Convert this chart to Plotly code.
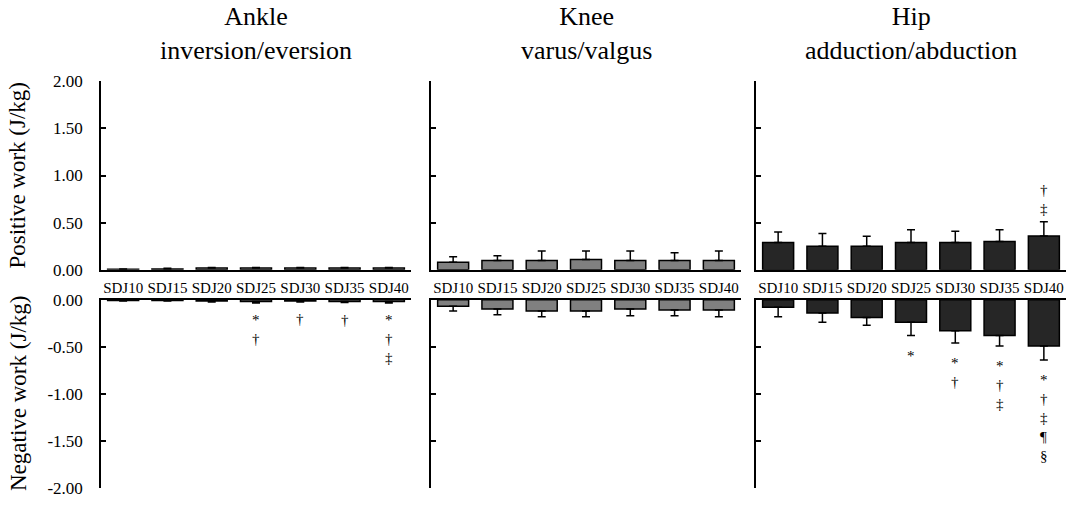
import plotly.graph_objects as go

# ---------------- data ----------------
categories = ["SDJ10", "SDJ15", "SDJ20", "SDJ25", "SDJ30", "SDJ35", "SDJ40"]

ankle_pos = [0.005, 0.008, 0.02, 0.02, 0.02, 0.02, 0.02]
ankle_pos_err = [0.003, 0.008, 0.005, 0.005, 0.005, 0.005, 0.005]
ankle_neg = [-0.01, -0.01, -0.015, -0.02, -0.015, -0.02, -0.02]
ankle_neg_err = [0.005, 0.005, 0.01, 0.015, 0.01, 0.01, 0.015]

knee_pos = [0.08, 0.10, 0.10, 0.11, 0.10, 0.10, 0.10]
knee_pos_err = [0.06, 0.05, 0.10, 0.09, 0.10, 0.08, 0.10]
knee_neg = [-0.07, -0.10, -0.12, -0.12, -0.10, -0.11, -0.11]
knee_neg_err = [0.05, 0.06, 0.06, 0.06, 0.07, 0.06, 0.07]

hip_pos = [0.29, 0.25, 0.25, 0.29, 0.29, 0.30, 0.36]
hip_pos_err = [0.11, 0.135, 0.107, 0.135, 0.12, 0.125, 0.15]
hip_neg = [-0.08, -0.14, -0.19, -0.24, -0.33, -0.38, -0.49]
hip_neg_err = [0.10, 0.10, 0.08, 0.14, 0.13, 0.11, 0.15]

# significance marks, listed from the bar outward
ankle_neg_marks = [[], [], [], ["*", "†"], ["†"], ["†"], ["*", "†", "‡"]]
knee_neg_marks = [[], [], [], [], [], [], []]
hip_neg_marks = [[], [], [], ["*"], ["*", "†"], ["*", "†", "‡"], ["*", "†", "‡", "¶", "§"]]
hip_pos_marks = [[], [], [], [], [], [], ["‡", "†"]]

panel_titles = ["Ankle<br>inversion/eversion", "Knee<br>varus/valgus", "Hip<br>adduction/abduction"]
pos_ticks = [0, 0.5, 1.0, 1.5, 2.0]
pos_tick_text = ["0.00", "0.50", "1.00", "1.50", "2.00"]
neg_ticks = [0, -0.5, -1.0, -1.5, -2.0]
neg_tick_text = ["0.00", "-0.50", "-1.00", "-1.50", "-2.00"]

colors = ["#c0c0c0", "#808080", "#262626"]

# ---------------- layout geometry ----------------
W, H = 1076, 507
FONT = "Liberation Serif"
x_px = [(101, 411), (431, 741), (756, 1066)]
top_px = (75, 271)
bot_px = (302, 498)


def xd(p):
    return [p[0] / W, p[1] / W]


def yd(p):
    return [1 - p[1] / H, 1 - p[0] / H]


fig = go.Figure()

pos_sets = [(ankle_pos, ankle_pos_err), (knee_pos, knee_pos_err), (hip_pos, hip_pos_err)]
neg_sets = [(ankle_neg, ankle_neg_err), (knee_neg, knee_neg_err), (hip_neg, hip_neg_err)]

for i in range(3):
    v, e = pos_sets[i]
    fig.add_trace(go.Bar(
        x=categories, y=v, xaxis=f"x{i+1}", yaxis=f"y{i+1}",
        marker=dict(color=colors[i], line=dict(color="black", width=1.5)),
        error_y=dict(type="data", symmetric=False, array=e, arrayminus=[0] * len(e),
                     color="black", thickness=1.5, width=4),
        showlegend=False, hoverinfo="skip"))
    v, e = neg_sets[i]
    fig.add_trace(go.Bar(
        x=categories, y=v, xaxis=f"x{i+4}", yaxis=f"y{i+4}",
        marker=dict(color=colors[i], line=dict(color="black", width=1.5)),
        error_y=dict(type="data", symmetric=False, array=[0] * len(e), arrayminus=e,
                     color="black", thickness=1.5, width=4),
        showlegend=False, hoverinfo="skip"))

layout = dict(
    width=W, height=H,
    margin=dict(l=0, r=0, t=0, b=0),
    paper_bgcolor="white", plot_bgcolor="white",
    bargap=0.3,
    font=dict(family=FONT, color="black"),
    showlegend=False,
)

for i in range(3):
    # top row
    layout[f"xaxis{i+1}" if i else "xaxis"] = dict(
        domain=xd(x_px[i]), anchor=f"y{i+1}", type="category", range=[-0.5, 6.5],
        showline=True, linecolor="black", linewidth=1.5, ticks="",
        showgrid=False, zeroline=False,
        tickfont=dict(family=FONT, size=15, color="black"),
        ticklabelstandoff=3, fixedrange=True)
    layout[f"yaxis{i+1}" if i else "yaxis"] = dict(
        domain=yd(top_px), anchor=f"x{i+1}", range=[0, 2],
        showline=True, linecolor="black", linewidth=1.5,
        ticks="inside", ticklen=5, tickwidth=1.5, tickcolor="black",
        tickvals=pos_ticks, ticktext=pos_tick_text, showticklabels=(i == 0),
        tickfont=dict(family=FONT, size=17, color="black"), ticklabelstandoff=13,
        showgrid=False, zeroline=False, fixedrange=True)
    # bottom row
    layout[f"xaxis{i+4}"] = dict(
        domain=xd(x_px[i]), anchor=f"y{i+4}", type="category", range=[-0.5, 6.5],
        side="top", showline=True, linecolor="black", linewidth=1.5, ticks="",
        showticklabels=False, showgrid=False, zeroline=False, fixedrange=True)
    layout[f"yaxis{i+4}"] = dict(
        domain=yd(bot_px), anchor=f"x{i+4}", range=[-2, 0],
        showline=True, linecolor="black", linewidth=1.5,
        ticks="inside", ticklen=5, tickwidth=1.5, tickcolor="black",
        tickvals=neg_ticks, ticktext=neg_tick_text, showticklabels=(i == 0),
        tickfont=dict(family=FONT, size=17, color="black"), ticklabelstandoff=13,
        showgrid=False, zeroline=False, fixedrange=True)

annotations = []
# panel titles
for i in range(3):
    annotations.append(dict(
        text=panel_titles[i], xref="paper", yref="paper",
        x=(x_px[i][0] + x_px[i][1]) / 2 / W, y=1.0, xanchor="center", yanchor="top",
        yshift=9, showarrow=False, font=dict(family=FONT, size=26, color="black")))
# y titles
annotations.append(dict(
    text="Positive work (J/kg)", xref="paper", yref="paper",
    x=18 / W, y=1 - (top_px[0] + top_px[1]) / 2 / H, textangle=-90,
    xanchor="center", yanchor="middle", showarrow=False,
    font=dict(family=FONT, size=23, color="black")))
annotations.append(dict(
    text="Negative work (J/kg)", xref="paper", yref="paper",
    x=18 / W, y=1 - (bot_px[0] + bot_px[1]) / 2 / H, textangle=-90,
    xanchor="center", yanchor="middle", showarrow=False,
    font=dict(family=FONT, size=23, color="black")))


def add_marks(marks, vals, errs, axis_idx, direction, first):
    for j, ms in enumerate(marks):
        for k, m in enumerate(ms):
            base = vals[j] + direction * errs[j]
            annotations.append(dict(
                text=m, x=categories[j], y=base,
                xref=f"x{axis_idx}", yref=f"y{axis_idx}",
                yshift=direction * (first + 19 * k), xanchor="center", yanchor="middle",
                showarrow=False, font=dict(family=FONT, size=15, color="black")))


add_marks(ankle_neg_marks, ankle_neg, ankle_neg_err, 4, -1, 17)
add_marks(knee_neg_marks, knee_neg, knee_neg_err, 5, -1, 17)
add_marks(hip_neg_marks, hip_neg, hip_neg_err, 6, -1, 20)
add_marks(hip_pos_marks, hip_pos, hip_pos_err, 3, +1, 13)

layout["annotations"] = annotations
fig.update_layout(**layout)

fig.write_html("out.html")
